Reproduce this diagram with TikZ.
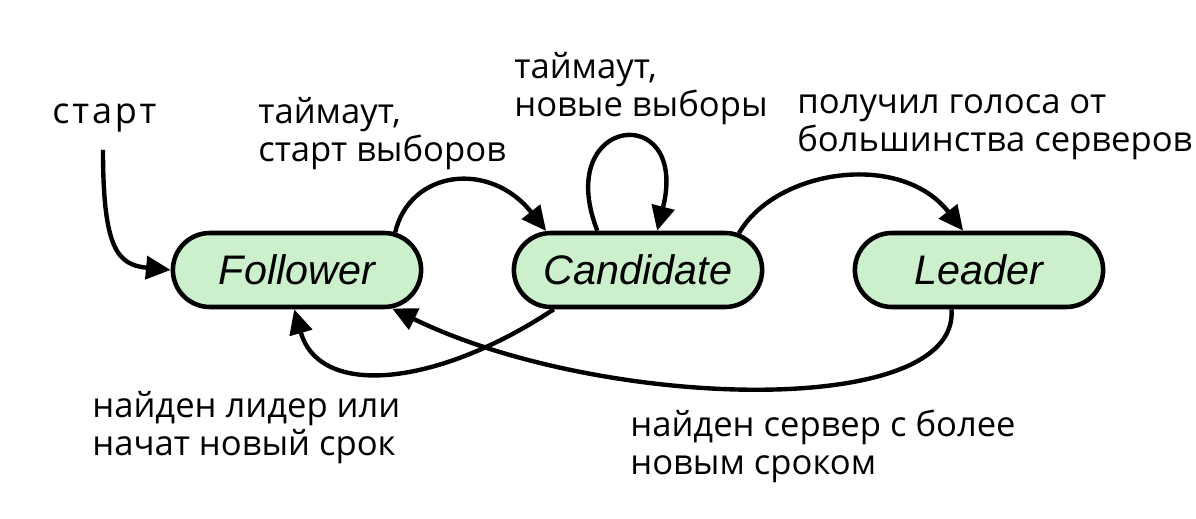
\documentclass[tikz,border=0pt]{standalone}
\usepackage{fontspec}
\setmainfont{Open Sans}
\newfontfamily\statefont{Liberation Sans}
\usetikzlibrary{arrows.meta, shapes.misc}
\definecolor{stategreen}{RGB}{204,240,204}
\tikzset{
    state/.style={rounded rectangle, draw, line width=2.6pt, fill=stategreen,
        minimum width=5.2cm, minimum height=1.48cm,
        font=\statefont\itshape\fontsize{23.5}{27}\selectfont},
    trans/.style={-{Triangle[length=14pt, width=13pt]}, line width=2.5pt},
    lbl/.style={anchor=base west, align=left, inner sep=0pt,
        font=\fontsize{19.7}{22}\selectfont}
}

\begin{document}
\begin{tikzpicture}[x=0.02cm, y=-0.02cm]
    \useasboundingbox (0,0) rectangle (1196,519);

    % Состояния
    \node[state] (follower) at (297,270) {Follower};
    \node[state] (candidate) at (638,270) {Candidate};
    \node[state] (leader) at (979,270) {Leader};

    % Подписи (опорная линия -- последняя строка)
    \node[lbl, font=\fontsize{20.5}{22}\selectfont\addfontfeature{LetterSpace=8}] (lblstart) at (52,124) {старт};
    \coordinate (start) at (103,150);
    \node[lbl] (lbltimeout) at (258,162) {таймаут,\\старт выборов};
    \node[lbl] (lblloop) at (514,117) {таймаут,\\новые выборы};
    \node[lbl] (lblvotes) at (797,152) {получил голоса от\\большинства серверов};
    \node[lbl] (lblfound) at (92,456) {найден лидер или\\начат новый срок};
    \node[lbl] (lblterm) at (630,475) {найден сервер с более\\новым сроком};

    % Переходы
    \draw[trans] (start) .. controls (103,250) and (118,265) .. (follower.west);
    \draw[trans] (follower.21) .. controls (410,170) and (490,160) .. (candidate.157);
    \draw[trans] (candidate.136) .. controls (552,115) and (690,100) .. (candidate.64);
    \draw[trans] (candidate.20) .. controls (775,170) and (900,150) .. (leader.112);
    \draw[trans] (candidate.205) .. controls (440,385) and (320,400) .. (follower.266);
    \draw[trans] (leader.235) .. controls (960,420) and (600,410) .. (follower.338);
\end{tikzpicture}
\end{document}
